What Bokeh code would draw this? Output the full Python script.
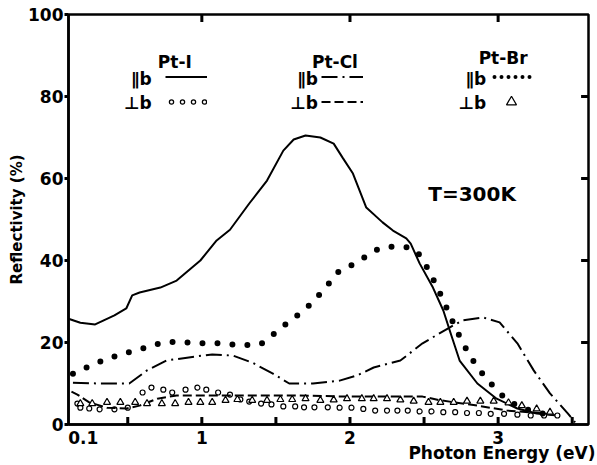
import math
from bokeh.plotting import figure
from bokeh.models import FixedTicker, Label, Legend, LegendItem, Range1d, Title
from bokeh.embed import file_html
from bokeh.resources import INLINE

FONT = "DejaVu Sans"

# ---- data (photon energy in eV, reflectivity in %) ----
pti_par_x = [0.10, 0.18, 0.28, 0.41, 0.49, 0.53, 0.58, 0.72, 0.83, 0.99, 1.10, 1.19, 1.32, 1.44,
             1.55, 1.62, 1.70, 1.80, 1.89, 1.95, 2.02, 2.11, 2.22, 2.29, 2.38, 2.41, 2.47, 2.56,
             2.63, 2.68, 2.74, 2.86, 2.99, 3.13, 3.26, 3.40]
pti_par_y = [25.8, 24.8, 24.4, 26.6, 28.3, 31.5, 32.2, 33.4, 35.1, 40.0, 44.9, 47.5, 53.9, 59.5,
             66.8, 69.5, 70.5, 70.0, 68.5, 65.1, 61.2, 52.9, 49.3, 47.3, 45.4, 44.1, 39.3, 33.4,
             27.8, 22.2, 15.6, 10.0, 6.3, 3.9, 2.7, 2.2]

pti_perp_x = [0.16, 0.18, 0.24, 0.31, 0.41, 0.50, 0.60, 0.66, 0.74, 0.80, 0.89, 0.97, 1.03, 1.11,
              1.19, 1.26, 1.32, 1.40, 1.47, 1.55, 1.63, 1.69, 1.76, 1.85, 1.93, 2.01, 2.09, 2.17,
              2.25, 2.32, 2.39, 2.47, 2.55, 2.63, 2.71, 2.79, 2.87, 2.95, 3.04, 3.13, 3.22, 3.31, 3.40]
pti_perp_y = [5.1, 4.1, 3.9, 3.7, 3.7, 4.1, 7.8, 9.0, 8.5, 7.8, 8.5, 9.0, 8.5, 7.8,
              7.3, 6.1, 5.6, 5.1, 4.9, 4.4, 4.4, 4.2, 4.2, 4.2, 4.1, 4.1, 3.8, 3.4,
              3.4, 3.4, 3.4, 3.2, 3.2, 3.0, 3.0, 2.8, 2.8, 2.6, 2.6, 2.4, 2.2, 2.2, 2.2]

ptcl_par_x = [0.13, 0.30, 0.51, 0.63, 0.76, 0.90, 1.07, 1.21, 1.34, 1.48, 1.59, 1.75, 1.93, 2.05,
              2.16, 2.34, 2.49, 2.66, 2.76, 2.90, 3.01, 3.13, 3.24, 3.35, 3.47, 3.52]
ptcl_par_y = [10.2, 10.0, 10.0, 13.2, 15.6, 16.3, 17.1, 16.8, 15.1, 12.4, 10.0, 10.0, 10.7, 12.0,
              13.9, 15.6, 19.8, 23.4, 25.4, 26.1, 24.9, 19.8, 13.2, 7.6, 2.7, 0.5]

ptcl_perp_x = [0.12, 0.16, 0.24, 0.36, 0.49, 0.58, 0.70, 0.83, 1.03, 1.44, 1.61, 2.00, 2.49, 2.61,
               2.86, 3.06, 3.30, 3.40]
ptcl_perp_y = [8.0, 7.3, 5.4, 4.1, 3.9, 4.6, 6.3, 7.1, 7.1, 7.1, 7.1, 6.8, 6.8, 5.9,
               4.6, 3.4, 2.7, 2.2]

ptbr_par_x = [0.13, 0.22, 0.33, 0.45, 0.58, 0.72, 0.83, 0.99, 1.12, 1.26, 1.39, 1.44, 1.51, 1.62,
              1.71, 1.82, 1.93, 2.05, 2.16, 2.27, 2.39, 2.45, 2.52, 2.59, 2.66, 2.72, 2.79, 2.86,
              2.95, 3.06, 3.17, 3.30, 3.40]
ptbr_par_y = [12.4, 13.9, 15.6, 17.1, 18.3, 19.8, 20.2, 19.8, 19.8, 19.3, 19.5, 20.5, 22.9, 25.9,
              28.5, 32.7, 37.6, 39.5, 42.4, 43.4, 43.2, 42.4, 38.3, 33.4, 27.8, 22.9, 18.0, 13.9,
              10.0, 5.9, 3.9, 2.7, 2.2]

ptbr_perp_x = [0.18, 0.26, 0.36, 0.45, 0.55, 0.63, 0.73, 0.82, 0.91, 0.99, 1.07, 1.16, 1.24, 1.34,
               1.44, 1.53, 1.61, 1.70, 1.80, 1.89, 1.98, 2.08, 2.16, 2.25, 2.34, 2.43, 2.53, 2.61,
               2.70, 2.79, 2.88, 2.97, 3.07, 3.16, 3.26, 3.35]
ptbr_perp_y = [5.1, 5.1, 5.4, 5.4, 5.4, 5.1, 5.1, 5.1, 5.4, 5.4, 5.4, 5.9, 6.1, 5.9,
               5.9, 6.1, 6.1, 6.3, 5.9, 6.0, 6.3, 6.3, 6.3, 6.3, 6.0, 5.7, 5.4, 5.4,
               5.4, 5.7, 5.7, 5.7, 5.3, 4.6, 3.8, 3.0]

NB = "\u00a0"
x_tick_labels = {0.1: NB * 5 + "0.1", 1: "1", 2: "2", 3: "3"}
x_bottom_ticks = [0.5, 1, 1.5, 2, 2.5, 3, 3.5]
x_top_ticks = [1, 2, 3]
y_ticks = [0, 20, 40, 60, 80, 100]
y_right_ticks = [20, 40, 60, 80]
X_MIN, X_MAX, Y_MIN, Y_MAX = 0.1, 3.61, 0, 100

# ---- figure ----
p = figure(width=597, height=465, output_backend="svg", toolbar_location=None,
           x_range=Range1d(X_MIN, X_MAX), y_range=Range1d(Y_MIN, Y_MAX),
           min_border_left=68, min_border_right=9, min_border_top=14, min_border_bottom=41)
p.grid.visible = False
p.outline_line_color = "black"
p.outline_line_width = 2.5
p.background_fill_color = "white"
p.border_fill_color = "white"

xa = p.xaxis[0]
xa.ticker = FixedTicker(ticks=list(x_tick_labels.keys()), minor_ticks=[])
xa.major_label_overrides = x_tick_labels
xa.major_tick_in = 0
xa.major_tick_out = 0
xa.axis_line_width = 2.5
xa.major_label_text_font = FONT
xa.major_label_text_font_style = "bold"
xa.major_label_text_font_size = "17px"
xa.major_label_text_color = "black"
xa.major_label_standoff = 3

ya = p.yaxis[0]
ya.ticker = FixedTicker(ticks=y_ticks, minor_ticks=[])
ya.major_tick_in = 0
ya.major_tick_out = 4
ya.major_tick_line_width = 3
ya.axis_line_width = 2.5
ya.major_label_text_font = FONT
ya.major_label_text_font_style = "bold"
ya.major_label_text_font_size = "17px"
ya.major_label_text_color = "black"
ya.major_label_standoff = 1

p.add_layout(Title(text="Reflectivity (%)", align="center", offset=62, standoff=0,
                   text_font=FONT, text_font_style="bold", text_font_size="15px",
                   text_color="black"), "left")
p.add_layout(Title(text="Photon Energy (eV)", align="right", offset=-7, standoff=-19,
                   text_font=FONT, text_font_style="bold", text_font_size="17px",
                   text_color="black"), "below")

# inward tick marks on the frame edges
TICK_Y = 1.8    # tick length in y units (about 7 px)
TICK_X = 0.05   # tick length in x units (about 7 px)
tick_style = dict(line_color="black", line_width=3)
p.segment(x0=x_bottom_ticks, y0=[Y_MIN] * len(x_bottom_ticks),
          x1=x_bottom_ticks, y1=[Y_MIN + TICK_Y] * len(x_bottom_ticks), **tick_style)
p.segment(x0=x_top_ticks, y0=[Y_MAX] * len(x_top_ticks),
          x1=x_top_ticks, y1=[Y_MAX - TICK_Y] * len(x_top_ticks), **tick_style)
p.segment(x0=[X_MAX] * len(y_right_ticks), y0=y_right_ticks,
          x1=[X_MAX - TICK_X] * len(y_right_ticks), y1=y_right_ticks, **tick_style)

# ---- curves ----
r_pti_par = p.line(pti_par_x, pti_par_y, line_color="black", line_width=2)
r_pti_perp = p.scatter(pti_perp_x, pti_perp_y, marker="circle", size=5,
                       fill_color="white", line_color="black", line_width=1.2)
r_ptcl_par = p.line(ptcl_par_x, ptcl_par_y, line_color="black", line_width=2,
                    line_dash="16 5 2 5")
r_ptcl_perp = p.line(ptcl_perp_x, ptcl_perp_y, line_color="black", line_width=2,
                     line_dash="9 4")
r_ptbr_par = p.line(ptbr_par_x, ptbr_par_y, line_color="black", line_width=6,
                    line_dash="0 15", line_cap="round")
r_ptbr_perp = p.scatter(ptbr_perp_x, ptbr_perp_y, marker="triangle", size=7,
                        fill_color="white", line_color="black", line_width=1.2)

# legend-only sample styles (hidden renderers, drawn only in the legends)
l_circ_b = p.line(pti_perp_x, pti_perp_y, line_color="black", line_width=5.5,
                  line_dash="0 11", line_dash_offset=5, line_cap="round", visible=False)
l_circ_w = p.line(pti_perp_x, pti_perp_y, line_color="white", line_width=3,
                  line_dash="0 11", line_dash_offset=5, line_cap="round", visible=False)
l_dots = p.line(ptbr_par_x, ptbr_par_y, line_color="black", line_width=4,
                line_dash="0 7", line_dash_offset=3, line_cap="round", visible=False)


def make_legend(items, x0):
    return Legend(items=items, location=(x0, 310), orientation="vertical",
                  glyph_width=42, glyph_height=25, spacing=0, padding=0, margin=0,
                  label_standoff=0, label_width=0, label_height=0,
                  label_text_font_size="6px", background_fill_alpha=0,
                  border_line_alpha=0)


p.add_layout(make_legend([LegendItem(label=" ", renderers=[r_pti_par]),
                          LegendItem(label=" ", renderers=[l_circ_b, l_circ_w])], 97))
p.add_layout(make_legend([LegendItem(label=" ", renderers=[r_ptcl_par]),
                          LegendItem(label=" ", renderers=[r_ptcl_perp])], 253))
p.add_layout(make_legend([LegendItem(label=" ", renderers=[l_dots]),
                          LegendItem(label=" ", renderers=[r_ptbr_perp])], 422))


def px2x(px):
    return 1 + (px - 202) / 148.0


def py2y(py):
    return (424 - py) / 4.1


def add_text(txt, px, py, size, align="center", angle=0):
    p.add_layout(Label(x=px2x(px), y=py2y(py), text=txt, text_font=FONT,
                       text_font_size=size, text_font_style="bold", text_align=align,
                       text_baseline="middle", text_color="black", angle=angle))


# legend texts
add_text("Pt-I", 175, 61, "17px")
add_text("Pt-Cl", 335, 61, "17px")
add_text("Pt-Br", 503, 57, "17px")
for xr in (152, 318, 486):
    add_text("\u2225b", xr, 78, "17px", align="right")
    add_text("\u22a5b", xr, 102, "17px", align="right")

add_text("T=300K", 472, 193, "20px")

open("out.html", "w").write(file_html(p, INLINE))
